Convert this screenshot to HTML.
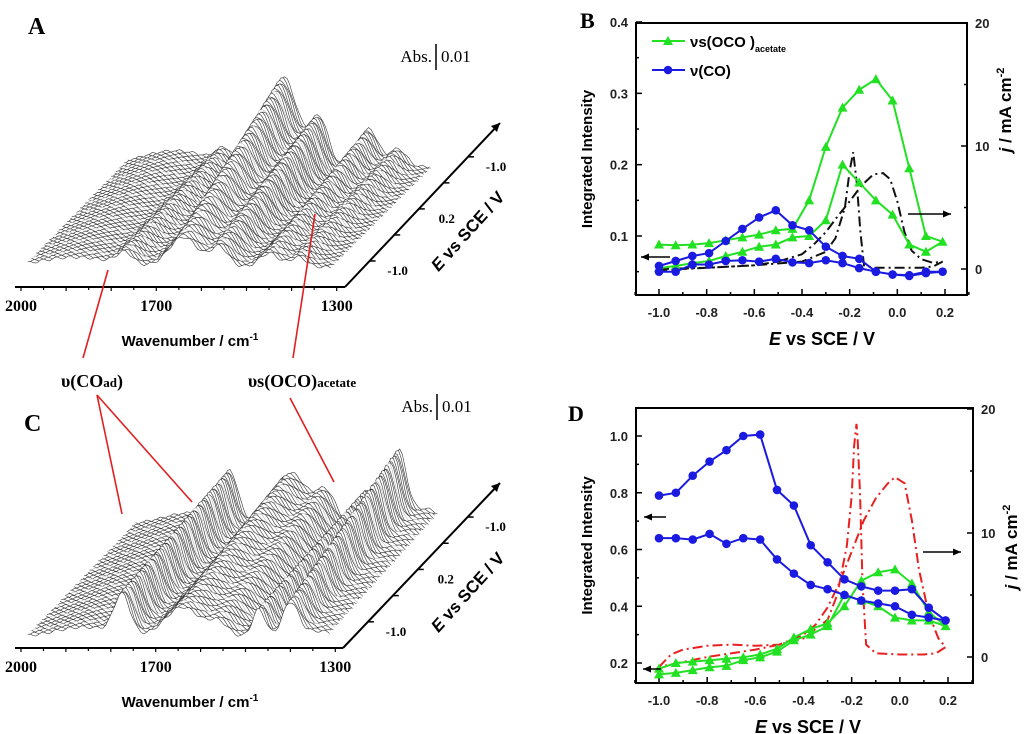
<!DOCTYPE html>
<html><head><meta charset="utf-8">
<style>
html,body{margin:0;padding:0;background:#fff;}
svg{display:block;}
.tick{font:bold 13px "Liberation Sans",sans-serif;fill:#222;}
.ser{font-family:"Liberation Serif",serif;}
</style></head>
<body>
<svg id="fig" width="1024" height="734" viewBox="0 0 1024 734" xmlns="http://www.w3.org/2000/svg">
<g id="panelA"></g>
<g id="panelC"></g>
<g id="panelB"></g>
<g id="panelD"></g>
<g id="annot">
  <text x="28" y="34" class="ser" font-size="24" font-weight="bold">A</text>
  <text x="24" y="431" class="ser" font-size="24" font-weight="bold">C</text>
  <text x="580" y="28" class="ser" font-size="22" font-weight="bold">B</text>
  <text x="568" y="421" class="ser" font-size="22" font-weight="bold">D</text>
  <text x="92" y="387" class="ser" font-size="18" font-weight="bold" text-anchor="middle">υ(CO<tspan font-size="13">ad</tspan>)</text>
  <text x="302" y="387" class="ser" font-size="18" font-weight="bold" text-anchor="middle">υs(OCO)<tspan font-size="13">acetate</tspan></text>
  <g stroke="#e02020" stroke-width="1.6">
    <line x1="108" y1="270" x2="83" y2="358"/>
    <line x1="315" y1="214" x2="293" y2="358"/>
    <line x1="97" y1="395" x2="122" y2="514"/>
    <line x1="97" y1="395" x2="192" y2="502"/>
    <line x1="290" y1="398" x2="334" y2="482"/>
  </g>
</g>
</svg>
<script>
const NS='http://www.w3.org/2000/svg';
function mk(tag,attrs,parent){const e=document.createElementNS(NS,tag);for(const k in attrs)e.setAttribute(k,attrs[k]);parent.appendChild(e);return e;}

/* ---------- waterfall spectra data (A and C) ---------- */
const wavenumbers=[2000,1700,1300];
const depthTicks=['-1.0','0.2','-1.0'];
const peakCentersA=[1880,1770,1640,1560,1450,1385];
const peakWidthsA=[110,25,45,28,30,25];
const peakFrontA=[10,12,30,20,14,10];
const peakBackA=[16,14,90,48,38,18];
const peakCentersC=[1860,1775,1640,1560,1470,1400,1340];
const peakWidthsC=[90,25,55,30,20,25,50];
const peakFrontC=[10,40,30,14,28,34,6];
const peakBackC=[12,50,52,30,36,72,16];

function waterfall(g,geo,cen,wid,fr,bk,name){
  const X=w=>geo.x0+(2000-w)/100*geo.k;
  const N=85;
  for(let i=N-1;i>=0;i--){
    const t=i/(N-1);
    const ox=geo.dx*t, oy=geo.base+geo.dy*t;
    let pts=[];
    for(let w=1985;w>=1310;w-=6){
      let h=0;
      for(let p=0;p<cen.length;p++){
        const a=fr[p]+(bk[p]-fr[p])*t;
        h+=a*Math.exp(-Math.pow((w-cen[p])/wid[p],2));
      }
      h+=1.5*Math.sin(w*0.21+i*1.7);
      pts.push((X(w)+ox).toFixed(1)+','+(oy-h).toFixed(1));
    }
    const first=pts[0].split(','),last=pts[pts.length-1].split(',');
    const poly=mk('polygon',{points:pts.join(' ')+' '+last[0]+','+(oy+3)+' '+first[0]+','+(oy+3),fill:'#fff',stroke:'none'},g);
    
    
    const pl=mk('polyline',{points:pts.join(' '),fill:'none',stroke:(i%9==4?'#bbb':'#333'),'stroke-width':'0.6'},g);
    
    
  }
  const ax=mk('line',{x1:geo.x0-6,y1:geo.ay,x2:geo.x1+8,y2:geo.ay,stroke:'#000','stroke-width':'2'},g);
  
  
  for(let w=2000;w>=1300;w-=50){
    const tk=mk('line',{x1:X(w),y1:geo.ay,x2:X(w),y2:geo.ay+(w%100==0?4:3),stroke:'#000','stroke-width':'1.2'},g);
    
    
  }
  wavenumbers.forEach(w=>{
    const tl=mk('text',{x:X(w),y:geo.ay+24,'text-anchor':'middle','font-size':'16','font-weight':'bold','font-family':'Liberation Serif, serif'},g);
    tl.textContent=w;
    
    
  });
  const xt=mk('text',{x:190,y:geo.ay+59,'text-anchor':'middle','font-size':'15','font-weight':'bold','font-family':'Liberation Sans, sans-serif'},g);
  xt.innerHTML='Wavenumber / cm<tspan dy="-6" font-size="10">-1</tspan>';
  
  
  const da=mk('line',{x1:geo.x1+8,y1:geo.ay,x2:geo.ex,y2:geo.ey,stroke:'#000','stroke-width':'2'},g);
  
  
  const ah=mk('polygon',{points:`${geo.ex},${geo.ey} ${geo.ex-9},${geo.ey+3} ${geo.ex-3},${geo.ey+9}`,fill:'#000'},g);
  
  
  for(let j=1;j<=5;j++){
    const f=j/6.3;
    const px=geo.x1+8+(geo.ex-geo.x1-8)*f, py=geo.ay+(geo.ey-geo.ay)*f;
    const dt=mk('line',{x1:px,y1:py,x2:px+6,y2:py,stroke:'#000','stroke-width':'1.5'},g);
    
    
  }
  depthTicks.forEach((s,k)=>{
    const f=(1+2*k)/6.3;
    const px=geo.x1+8+(geo.ex-geo.x1-8)*f, py=geo.ay+(geo.ey-geo.ay)*f;
    const tl=mk('text',{x:px+28,y:py+14,'text-anchor':'middle','font-size':'13','font-weight':'bold','font-family':'Liberation Serif, serif'},g);
    tl.textContent=s;
    
    
  });
  const dtl=mk('text',{x:0,y:0,'text-anchor':'middle','font-size':'17','font-weight':'bold','font-family':'Liberation Sans, sans-serif',transform:`translate(${geo.ex-28},${geo.ay-52}) rotate(-48)`},g);
  dtl.innerHTML='<tspan font-style="italic">E</tspan> vs SCE / V';
  
  
  const ab=mk('text',{x:geo.abx-4,y:geo.aby+6,'text-anchor':'end','font-size':'17','font-family':'Liberation Serif, serif'},g);
  ab.textContent='Abs.';
  
  
  const ab2=mk('text',{x:geo.abx+5,y:geo.aby+6,'font-size':'17','font-family':'Liberation Serif, serif'},g);
  ab2.textContent='0.01';
  
  
  const sb=mk('line',{x1:geo.abx,y1:geo.aby-12,x2:geo.abx,y2:geo.aby+14,stroke:'#000','stroke-width':'1.5'},g);
  
  
}
waterfall(document.getElementById('panelA'),{x0:21,x1:337,k:45.1,base:267,dx:100,dy:-100,ay:287,ex:500,ey:123,abx:436,aby:56},peakCentersA,peakWidthsA,peakFrontA,peakBackA,'panel-a');
waterfall(document.getElementById('panelC'),{x0:21,x1:335,k:44.9,base:637,dx:108,dy:-112,ay:648,ex:500,ey:483,abx:437,aby:406},peakCentersC,peakWidthsC,peakFrontC,peakBackC,'panel-c');

/* ---------- panel B data ---------- */
const potentials=[-1.0,-0.93,-0.86,-0.79,-0.72,-0.65,-0.58,-0.51,-0.44,-0.37,-0.30,-0.23,-0.16,-0.09,-0.02,0.05,0.12,0.19];
const xTickLabels=['-1.0','-0.8','-0.6','-0.4','-0.2','0.0','0.2'];
const bGreenFwd=[0.088,0.087,0.088,0.09,0.094,0.098,0.102,0.108,0.11,0.15,0.225,0.28,0.305,0.32,0.29,0.195,0.1,0.092];
const bGreenRev=[0.055,0.058,0.062,0.065,0.072,0.078,0.085,0.088,0.098,0.1,0.122,0.2,0.175,0.15,0.13,0.088,0.078];
const bBlueFwd=[0.058,0.065,0.072,0.076,0.093,0.11,0.126,0.136,0.115,0.108,0.085,0.072,0.068,0.05,0.046,0.045,0.05,0.05];
const bBlueRev=[0.05,0.05,0.06,0.06,0.065,0.066,0.064,0.068,0.063,0.062,0.066,0.062,0.055,0.05,0.046,0.044,0.048];
const bCvE=[-1.0,-0.8,-0.6,-0.5,-0.4,-0.35,-0.3,-0.25,-0.2,-0.15,-0.1,-0.06,-0.03,0.0,0.03,0.06,0.1,0.15,0.19,0.15,0.1,0.0,-0.1,-0.14,-0.155,-0.17,-0.185,-0.2,-0.22,-0.26,-0.3,-0.4,-0.6,-0.8,-1.0];
const bCvJ=[0,0.1,0.3,0.6,1.2,2,3,4.3,5.5,6.8,7.7,7.8,7.3,5.5,3,1.5,0.8,0.5,0.6,0.2,0.1,0.1,0.1,0.3,3,7,9.5,8,5,2.5,1.4,0.6,0.3,0.1,-0.1];
const bLeftTicks=[0.1,0.2,0.3,0.4];
const bRightTicks=[0,10,20];

/* ---------- panel D data ---------- */
const dBlueFwd=[0.79,0.8,0.86,0.91,0.95,1.0,1.005,0.81,0.755,0.615,0.555,0.495,0.47,0.455,0.455,0.46,0.395,0.35];
const dBlueRev=[0.64,0.64,0.635,0.655,0.62,0.64,0.635,0.565,0.515,0.475,0.46,0.44,0.42,0.41,0.4,0.37,0.36];
const dGreenFwd=[0.18,0.2,0.205,0.21,0.215,0.22,0.23,0.25,0.29,0.32,0.34,0.4,0.49,0.52,0.53,0.48,0.38,0.33];
const dGreenRev=[0.16,0.165,0.175,0.185,0.19,0.21,0.22,0.24,0.28,0.3,0.33,0.44,0.42,0.4,0.36,0.35,0.35];
const dCvE=[-1.0,-0.95,-0.9,-0.8,-0.7,-0.6,-0.5,-0.4,-0.35,-0.3,-0.25,-0.2,-0.15,-0.1,-0.05,-0.02,0.02,0.05,0.08,0.12,0.16,0.19,0.15,0.1,0.0,-0.1,-0.14,-0.155,-0.165,-0.175,-0.18,-0.19,-0.2,-0.22,-0.26,-0.3,-0.4,-0.5,-0.6,-0.8,-0.9,-1.0];
const dCvJ=[-0.8,0.2,0.6,0.9,1.0,0.9,1.0,1.8,2.6,4,6,8.5,11,12.8,14,14.5,14,11,7,3.5,1.5,0.8,0.3,0.2,0.2,0.3,1,6,13,17.5,18.8,17,13,9,5,3,1.5,1,0.6,0,-0.4,-0.8];
const dLeftTicks=[0.2,0.4,0.6,0.8,1.0];
const dRightTicks=[0,10,20];

function plot(g,cfg){
  const X=v=>cfg.xa+(v-(-1.0))/1.2*(cfg.xb-cfg.xa);
  const YL=v=>cfg.yl0+(v-cfg.l0)/(cfg.l1-cfg.l0)*(cfg.yl1-cfg.yl0);
  const YR=v=>cfg.yr0+(v-0)/10*(cfg.yr1-cfg.yr0);
  const box=mk('rect',{x:cfg.L,y:cfg.T,width:cfg.R-cfg.L,height:cfg.B-cfg.T,fill:'none',stroke:'#000','stroke-width':'2'},g);
  
  
  for(let v=-1.1;v<=0.301;v+=0.1){
    const major=Math.abs(Math.round(v*10)%2)==0;
    const t=mk('line',{x1:X(v),y1:cfg.B,x2:X(v),y2:cfg.B-(major?6:3),stroke:'#000','stroke-width':'1.5'},g);
    
    
  }
  xTickLabels.forEach(s=>{
    const t=mk('text',{x:X(parseFloat(s)),y:cfg.B+22,'text-anchor':'middle',class:'tick'},g);
    t.textContent=s;
    
    
  });
  cfg.lt.forEach(v=>{
    const t=mk('line',{x1:cfg.L,y1:YL(v),x2:cfg.L+6,y2:YL(v),stroke:'#000','stroke-width':'1.5'},g);
    
    
    const my=YL(v-cfg.lstep/2);
    if(my<cfg.B-2){
      const m=mk('line',{x1:cfg.L,y1:my,x2:cfg.L+3,y2:my,stroke:'#000','stroke-width':'1.5'},g);
      
      
    }
    const l=mk('text',{x:cfg.L-8,y:YL(v)+5,'text-anchor':'end',class:'tick'},g);
    l.textContent=v.toFixed(1);
    
    
  });
  cfg.rt.forEach(v=>{
    const t=mk('line',{x1:cfg.R,y1:YR(v),x2:cfg.R-6,y2:YR(v),stroke:'#000','stroke-width':'1.5'},g);
    
    
    if(v<20){const m=mk('line',{x1:cfg.R,y1:YR(v+5),x2:cfg.R-3,y2:YR(v+5),stroke:'#000','stroke-width':'1.5'},g);
    
    }
    const l=mk('text',{x:cfg.R+8,y:YR(v)+5,class:'tick'},g);
    l.textContent=v;
    
    
  });
  const yt=mk('text',{x:0,y:0,'text-anchor':'middle','font-size':'15','font-weight':'bold','font-family':'Liberation Sans, sans-serif',transform:`translate(${cfg.L-44},${(cfg.T+cfg.B)/2}) rotate(-90)`},g);
  yt.textContent='Integrated Intensity';
  
  
  const rt=mk('text',{x:0,y:0,'text-anchor':'middle','font-size':'17','font-weight':'bold','font-family':'Liberation Sans, sans-serif',transform:`translate(${cfg.R+44},${cfg.rty}) rotate(-90)`},g);
  rt.innerHTML='<tspan font-style="italic">j</tspan> / mA cm<tspan dy="-7" font-size="11">-2</tspan>';
  
  
  const xt=mk('text',{x:cfg.xtx,y:cfg.B+50,'text-anchor':'middle','font-size':'18','font-weight':'bold','font-family':'Liberation Sans, sans-serif'},g);
  xt.innerHTML='<tspan font-style="italic">E</tspan> vs SCE / V';
  
  
  const cvp=cfg.cvE.map((e,i)=>X(e).toFixed(1)+','+YR(cfg.cvJ[i]).toFixed(1)).join(' ');
  const cv=mk('polyline',{points:cvp,fill:'none',stroke:cfg.cvColor,'stroke-width':'2','stroke-dasharray':'10,4,2,4'},g);
  
  
  cfg.series.forEach(s=>{
    const pts=[];
    s.fwd.forEach((v,i)=>pts.push([X(potentials[i]),YL(v)]));
    for(let i=s.rev.length-1;i>=0;i--)pts.push([X(potentials[i]),YL(s.rev[i])]);
    const pl=mk('polyline',{points:pts.map(p=>p[0].toFixed(1)+','+p[1].toFixed(1)).join(' '),fill:'none',stroke:s.color,'stroke-width':'2'},g);
    
    
    pts.forEach(p=>{
      let m;
      if(s.tri) m=mk('polygon',{points:`${p[0]},${p[1]-5} ${p[0]-5},${p[1]+4} ${p[0]+5},${p[1]+4}`,fill:s.color},g);
      else m=mk('circle',{cx:p[0],cy:p[1],r:4.3,fill:s.color},g);
      
      
    });
  });
  cfg.arrows.forEach(a=>{
    const l=mk('line',{x1:a[0],y1:a[2],x2:a[1],y2:a[2],stroke:'#000','stroke-width':'1.5'},g);
    
    
    const d=a[1]>a[0]?-1:1;
    const h=mk('polygon',{points:`${a[1]},${a[2]} ${a[1]+d*8},${a[2]-3.5} ${a[1]+d*8},${a[2]+3.5}`,fill:'#000'},g);
    
    
  });
}

plot(document.getElementById('panelB'),{L:636,R:967,T:23,B:295,xa:659,xb:945,l0:0.1,l1:0.4,yl0:236,yl1:22,yr0:269,yr1:146,lt:bLeftTicks,lstep:0.1,rt:bRightTicks,rty:110,xtx:822,
  cvE:bCvE,cvJ:bCvJ,cvColor:'#111',
  series:[{name:'oco-acetate',fwd:bGreenFwd,rev:bGreenRev,color:'#22e022',tri:true},{name:'co',fwd:bBlueFwd,rev:bBlueRev,color:'#1a1ae0',tri:false}],
  arrows:[[670,641,257],[908,951,214]]});
plot(document.getElementById('panelD'),{L:636,R:973,T:408,B:683,xa:659,xb:948,l0:0.2,l1:1.0,yl0:663,yl1:436,yr0:657,yr1:533,lt:dLeftTicks,lstep:0.2,rt:dRightTicks,rty:547,xtx:808,
  cvE:dCvE,cvJ:dCvJ,cvColor:'#e82020',
  series:[{name:'oco-acetate',fwd:dGreenFwd,rev:dGreenRev,color:'#22e022',tri:true},{name:'co',fwd:dBlueFwd,rev:dBlueRev,color:'#1a1ae0',tri:false}],
  arrows:[[666,644,517],[661,643,669],[923,961,552]]});

const lg=mk('g',{},document.getElementById('panelB'));


const l1=mk('line',{x1:652,y1:41,x2:685,y2:41,stroke:'#22e022','stroke-width':'2'},lg);


const m1=mk('polygon',{points:'668,36 663,45 673,45',fill:'#22e022'},lg);


const t1=mk('text',{x:690,y:47,'font-size':'15','font-weight':'bold','font-family':'Liberation Sans, sans-serif'},lg);
t1.innerHTML='νs(OCO )<tspan dy="5" font-size="9">acetate</tspan>';


const l2=mk('line',{x1:652,y1:70,x2:685,y2:70,stroke:'#1a1ae0','stroke-width':'2'},lg);


const m2=mk('circle',{cx:668,cy:70,r:4.3,fill:'#1a1ae0'},lg);


const t2=mk('text',{x:690,y:76,'font-size':'15','font-weight':'bold','font-family':'Liberation Sans, sans-serif'},lg);
t2.textContent='ν(CO)';


</script>
</body></html>
